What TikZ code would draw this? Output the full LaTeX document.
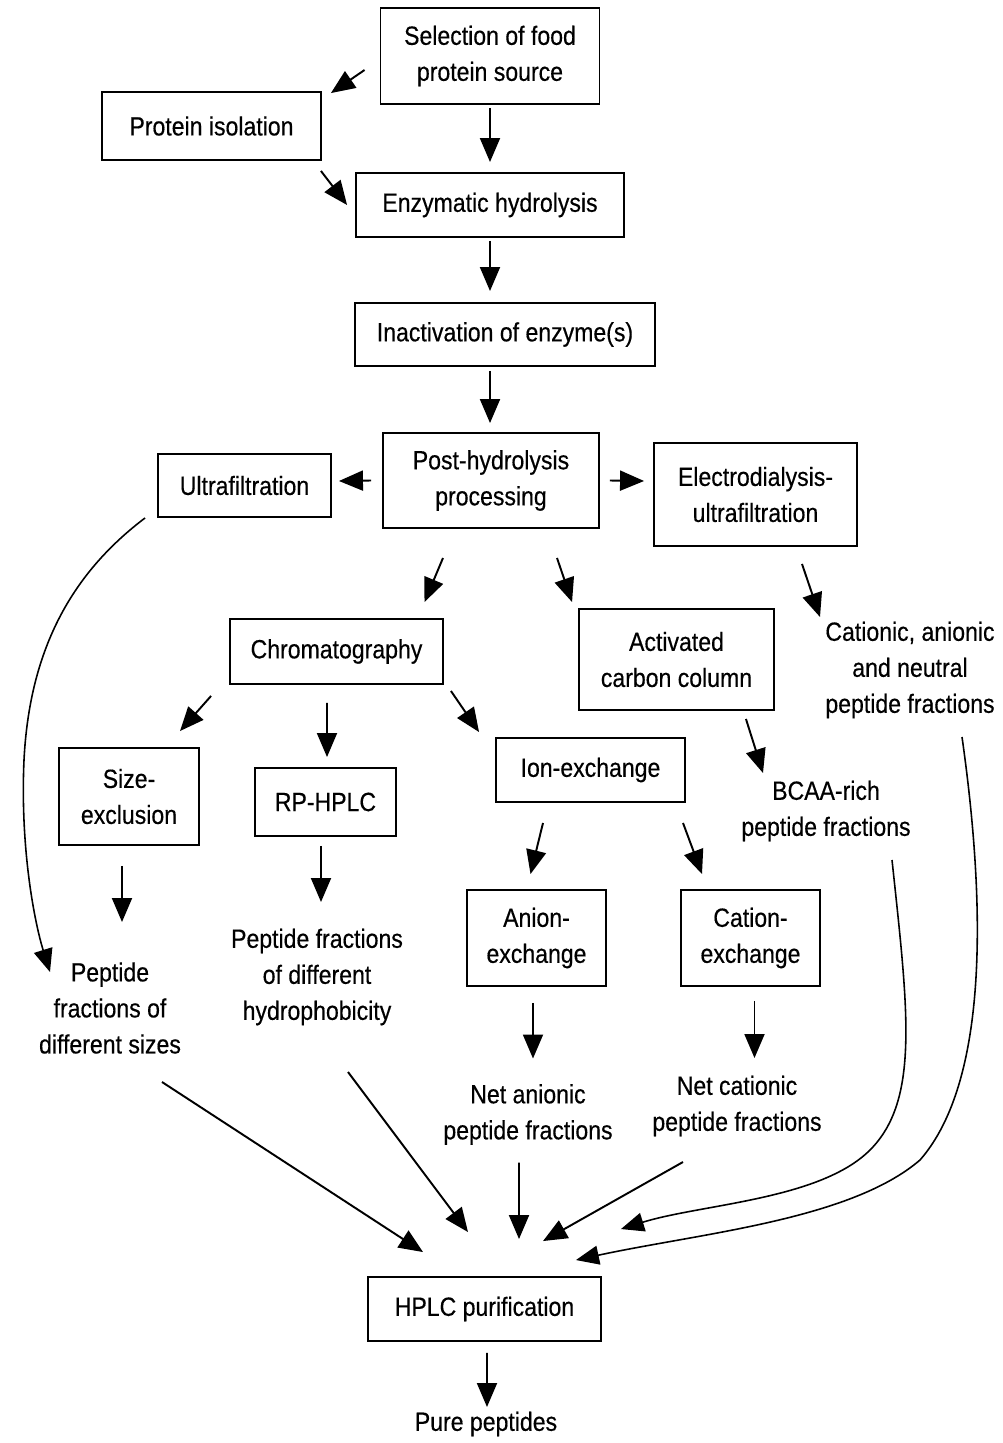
\documentclass[tikz,border=0pt]{standalone}
\usepackage{fontspec}
\setmainfont{Liberation Sans}[FakeStretch=0.875,FakeBold=0.4]
\usetikzlibrary{arrows.meta,calc}
\newcommand{\flowfont}{\fontsize{15}{20.5}\selectfont}

\begin{document}
\begin{tikzpicture}[x=0.02cm,y=-0.02cm,
    box/.style={draw, line width=1.1pt, inner sep=0pt, align=center, font=\flowfont},
    txt/.style={inner sep=0pt, align=center, font=\flowfont},
    arr/.style={line width=1.1pt, -{Triangle[length=4.8mm,width=4mm]}},
    curvearr/.style={line width=0.9pt, -{Triangle[length=4.6mm,width=3.8mm]}}]
        \useasboundingbox (0,0) rectangle (1002,1443);

        % Top of the flow: source, isolation, hydrolysis
        \node[box, minimum width=4.38cm, minimum height=1.92cm] (sel) at (490,56) {Selection of food\\protein source};
        \node[box, minimum width=4.38cm, minimum height=1.36cm] (iso) at (211.5,126) {Protein isolation};
        \node[box, minimum width=5.36cm, minimum height=1.28cm] (enz) at (490,205) {Enzymatic hydrolysis};
        \node[box, minimum width=6.00cm, minimum height=1.26cm] (inact) at (505,334.5) {Inactivation of enzyme(s)};

        % Post-hydrolysis row
        \node[box, minimum width=4.32cm, minimum height=1.90cm] (post) at (491,480.5) {Post-hydrolysis\\processing};
        \node[box, minimum width=3.46cm, minimum height=1.26cm] (ultra) at (244.5,485.5) {Ultrafiltration};
        \node[box, minimum width=4.06cm, minimum height=2.06cm] (electro) at (755.5,494.5) {Electrodialysis-\\ultrafiltration};

        % Separation methods
        \node[box, minimum width=4.26cm, minimum height=1.30cm] (chrom) at (336.5,651.5) {Chromatography};
        \node[box, minimum width=3.90cm, minimum height=2.02cm] (carbon) at (676.5,659.5) {Activated\\carbon column};
        \node[txt] (cationic) at (910,670) {Cationic, anionic\\and neutral\\peptide fractions};
        \node[box, minimum width=2.80cm, minimum height=1.94cm] (size) at (129,796.5) {Size-\\exclusion};
        \node[box, minimum width=2.82cm, minimum height=1.36cm] (rphplc) at (325.5,802) {RP-HPLC};
        \node[box, minimum width=3.78cm, minimum height=1.28cm] (ion) at (590.5,770) {Ion-exchange};
        \node[txt] (bcaa) at (826,811) {BCAA-rich\\peptide fractions};
        \node[box, minimum width=2.78cm, minimum height=1.92cm] (anion) at (536.5,938) {Anion-\\exchange};
        \node[box, minimum width=2.78cm, minimum height=1.92cm] (cationex) at (750.5,938) {Cation-\\exchange};

        % Fractions
        \node[txt] (pepsize) at (110,1008) {Peptide\\fractions of\\different sizes};
        \node[txt] (pephyd) at (317,977) {Peptide fractions\\of different\\hydrophobicity};
        \node[txt] (netan) at (528,1114.5) {Net anionic\\peptide fractions};
        \node[txt] (netcat) at (737,1106) {Net cationic\\peptide fractions};

        % Final purification
        \node[box, minimum width=4.66cm, minimum height=1.28cm] (hplc) at (484.5,1309) {HPLC purification};
        \node[txt] (pure) at (486,1424) {Pure peptides};

        % Arrows in the top part
        \draw[arr] ($(sel.west)+(-15,14)$) -- ($(iso.north east)+(9,2)$);
        \draw[arr] ($(iso.south east)+(-1,10)$) -- ($(enz.west)+(-8,0)$);
        \draw[arr] ($(sel.south)+(0,3)$) -- ($(enz.north)+(0,-10)$);
        \draw[arr] ($(enz.south)+(0,3)$) -- ($(inact.north)+(-15,-11)$);
        \draw[arr] ($(inact.south)+(-15,4)$) -- ($(post.north)+(-1,-9)$);
        \draw[arr] ($(post.west)+(-11,0)$) -- ($(ultra.east)+(7,-4.5)$);
        \draw[arr] ($(post.east)+(10,0)$) -- ($(electro.west)+(-9,-13.5)$);
        \draw[arr] ($(post.south)+(-48,29)$) -- ($(chrom.north)+(88,-16)$);
        \draw[arr] ($(post.south)+(66,29)$) -- ($(carbon.north west)+(-6,-6)$);
        \draw[arr] ($(electro.south)+(46.5,17)$) -- ($(cationic.center)+(-90,-53)$);

        % Arrows below chromatography and ion-exchange
        \draw[arr] ($(chrom.south west)+(-18,11)$) -- ($(size.north)+(51,-16)$);
        \draw[arr] ($(chrom.south)+(-9.5,18)$) -- ($(rphplc.north)+(1.5,-10)$);
        \draw[arr] ($(chrom.south east)+(7,6)$) -- ($(ion.north west)+(-16,-5)$);
        \draw[arr] ($(carbon.south east)+(-29,8)$) -- ($(bcaa.center)+(-63,-38)$);
        \draw[arr] ($(ion.south)+(-47.5,20)$) -- ($(anion.north)+(-6,-15)$);
        \draw[arr] ($(ion.south)+(92.5,20)$) -- ($(cationex.north)+(-48.5,-15)$);
        \draw[arr] ($(size.south)+(-7,20)$) -- ($(pepsize.center)+(12,-86)$);
        \draw[arr] ($(rphplc.south)+(-4.5,9)$) -- ($(pephyd.center)+(4,-75)$);
        \draw[arr] ($(anion.south)+(-3.5,16)$) -- ($(netan.center)+(5,-56)$);
        \draw[arr] ($(cationex.south)+(4,14)$) -- ($(netcat.center)+(17.5,-48)$);

        % Everything goes to HPLC purification
        \draw[arr] ($(pepsize.center)+(52,74)$) -- ($(hplc.north)+(-61.5,-24)$);
        \draw[arr] ($(pephyd.center)+(31,95)$) -- ($(hplc.north)+(-16.5,-44)$);
        \draw[arr] ($(netan.center)+(-9,48)$) -- ($(hplc.north)+(34.5,-37)$);
        \draw[arr] ($(netcat.center)+(-54,56)$) -- ($(hplc.north)+(58.5,-35)$);
        \draw[arr] ($(hplc.south)+(2.5,11)$) -- ($(pure.center)+(1,-17)$);

        % Long curved arrows
        \draw[curvearr] ($(ultra.south west)+(-12,0)$) .. controls +(-66,50) and +(6,-120) .. (24,760)
            .. controls +(-4,90) and +(-15,-48) .. ($(pepsize.center)+(-60,-36)$);
        \draw[curvearr] ($(bcaa.center)+(66,49)$) .. controls +(16,150) and +(50,-50) .. (870,1150)
            .. controls +(-50,50) and +(80,-25) .. ($(hplc.north east)+(19,-47)$);
        \draw[curvearr] ($(cationic.center)+(52,67)$) .. controls +(23,162) and +(70,-80) .. (920,1160)
            .. controls +(-70,60) and +(125,-27) .. ($(hplc.north east)+(-26,-16)$);
    \end{tikzpicture}
\end{document}
